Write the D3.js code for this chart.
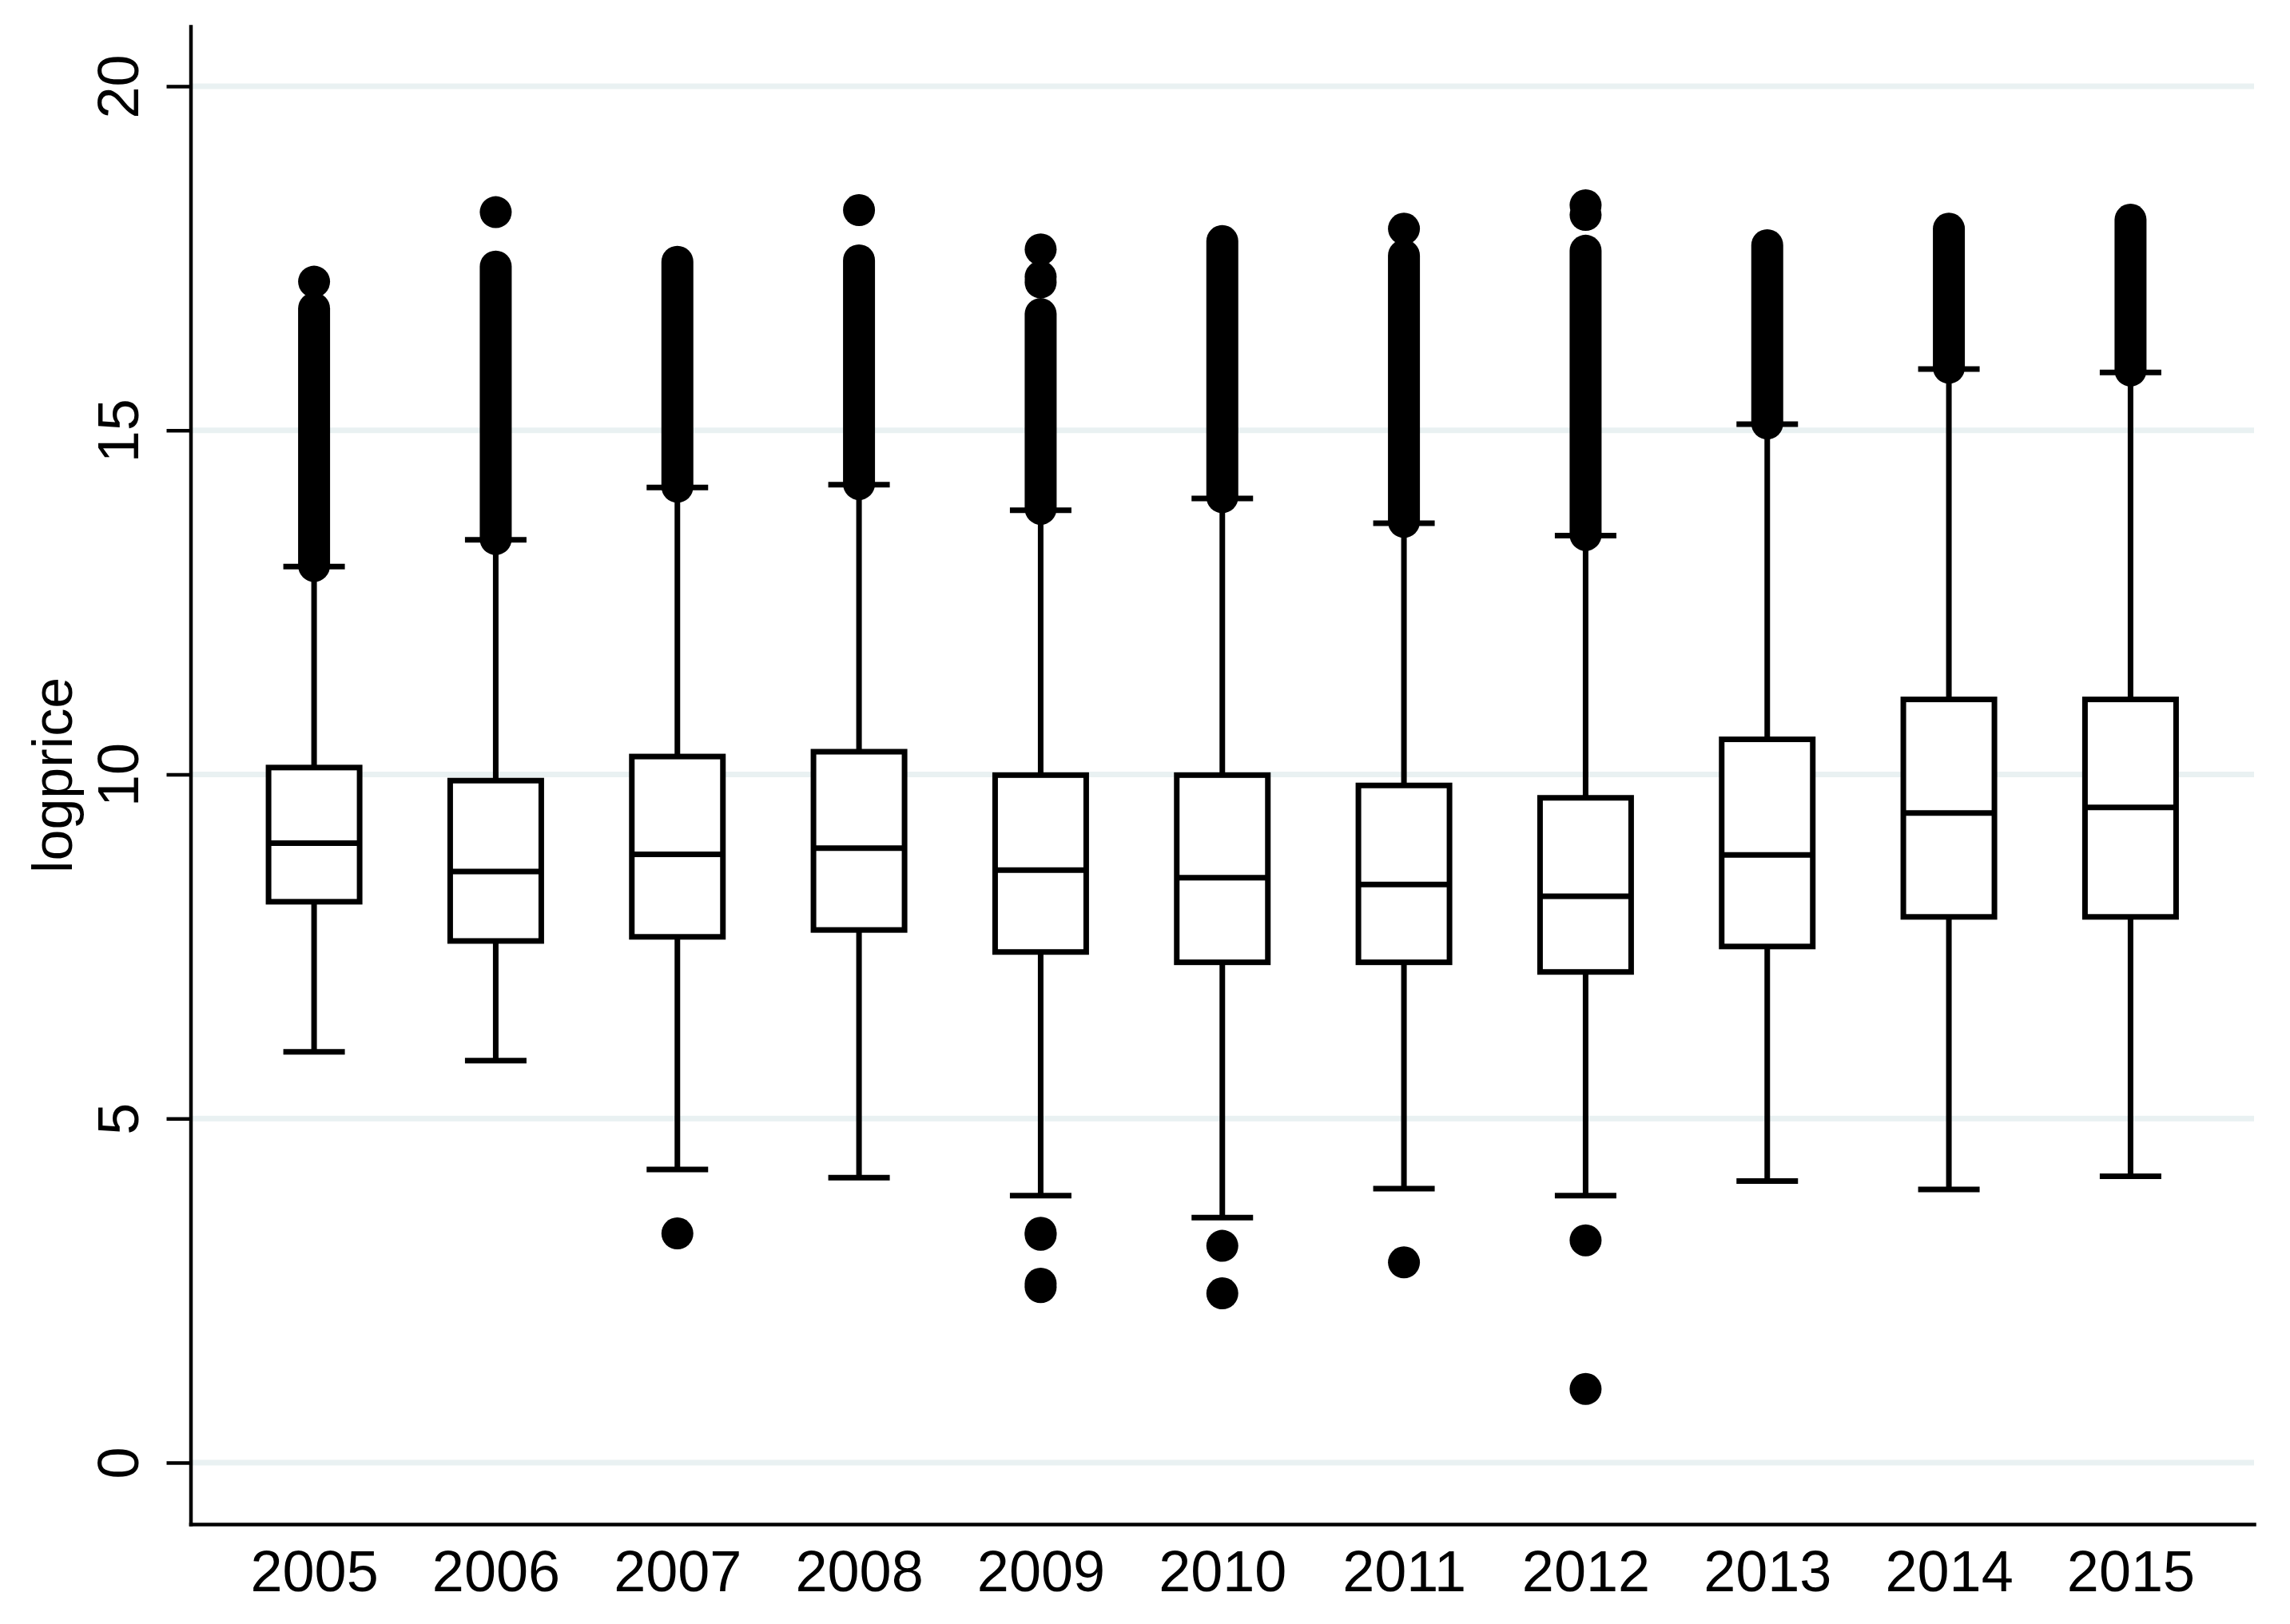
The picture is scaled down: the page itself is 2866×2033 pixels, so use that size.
<!DOCTYPE html>
<html>
<head>
<meta charset="utf-8">
<script src="https://cdn.jsdelivr.net/npm/d3@7"></script>
<style>
  html, body { margin: 0; padding: 0; background: #ffffff; }
  svg { display: block; }
  text { font-family: "Liberation Sans", Arial, Helvetica, sans-serif; }
</style>
</head>
<body>
<svg id="chart"></svg>
<script>
// ---- data ----
const years        = ["2005","2006","2007","2008","2009","2010","2011","2012","2013","2014","2015"];
const q1           = [8.15, 7.58, 7.64, 7.74, 7.42, 7.27, 7.27, 7.13, 7.50, 7.93, 7.93];
const median       = [9.00, 8.59, 8.84, 8.93, 8.61, 8.50, 8.40, 8.23, 8.83, 9.44, 9.52];
const q3           = [10.10, 9.91, 10.26, 10.33, 9.99, 9.99, 9.84, 9.66, 10.51, 11.09, 11.09];
const whiskerLow   = [5.97, 5.84, 4.26, 4.14, 3.88, 3.56, 3.98, 3.88, 4.09, 3.97, 4.16];
const whiskerHigh  = [13.02, 13.41, 14.17, 14.21, 13.84, 14.01, 13.65, 13.47, 15.09, 15.89, 15.84];
// dense runs of upper outliers (drawn as solid stacks of markers)
const denseOutLow  = [13.03, 13.42, 14.18, 14.22, 13.86, 14.03, 13.67, 13.48, 15.10, 15.91, 15.87];
const denseOutHigh = [16.77, 17.38, 17.45, 17.47, 16.69, 17.75, 17.54, 17.61, 17.69, 17.93, 18.06];
// separate outliers: year and value
const outYear  = ["2005","2006","2007","2008","2009","2009","2009","2009","2009","2009","2009","2010","2010","2011","2011","2012","2012","2012","2012"];
const outValue = [17.16, 18.17, 3.33, 18.20, 17.63, 17.23, 17.15, 3.34, 3.31, 2.60, 2.55, 3.15, 2.46, 17.93, 2.91, 18.27, 18.13, 3.23, 1.07];
const yTicks = [0, 5, 10, 15, 20];
const yTitle = "logprice";

(function () {
  const W = 2866, H = 2033;
  const svg = d3.select("#chart").attr("width", W).attr("height", H);
  svg.append("rect").attr("width", W).attr("height", H).attr("fill", "#ffffff");

  const pLeft = 238.5, pRight = 2821, pTop = 33, pBottom = 1908;
  const x = d3.scalePoint().domain(years).range([pLeft, pRight]).padding(0.68);
  const y = d3.scaleLinear().domain([-0.894, 20.87]).range([pBottom, pTop]);

  const boxW = 114, capW = 77, sw = 7, markR = 20;

  // gridlines
  svg.append("g").selectAll("line").data(yTicks).join("line")
    .attr("x1", pLeft).attr("x2", pRight)
    .attr("y1", d => y(d)).attr("y2", d => y(d))
    .attr("stroke", "#e9f1f2").attr("stroke-width", 7);

  const rows = years.map((yr, i) => ({
    yr, q1: q1[i], med: median[i], q3: q3[i], lo: whiskerLow[i], hi: whiskerHigh[i],
    dLo: denseOutLow[i], dHi: denseOutHigh[i]
  }));

  const g = svg.append("g");
  // whiskers
  g.append("g").selectAll("line").data(rows).join("line")
    .attr("x1", d => x(d.yr)).attr("x2", d => x(d.yr))
    .attr("y1", d => y(d.q3)).attr("y2", d => y(d.hi))
    .attr("stroke", "#000").attr("stroke-width", sw);
  g.append("g").selectAll("line").data(rows).join("line")
    .attr("x1", d => x(d.yr)).attr("x2", d => x(d.yr))
    .attr("y1", d => y(d.q1)).attr("y2", d => y(d.lo))
    .attr("stroke", "#000").attr("stroke-width", sw);
  // caps
  ["hi", "lo"].forEach(k => {
    g.append("g").selectAll("line").data(rows).join("line")
      .attr("x1", d => x(d.yr) - capW / 2).attr("x2", d => x(d.yr) + capW / 2)
      .attr("y1", d => y(d[k])).attr("y2", d => y(d[k]))
      .attr("stroke", "#000").attr("stroke-width", sw);
  });
  // boxes
  g.append("g").selectAll("rect").data(rows).join("rect")
    .attr("x", d => x(d.yr) - boxW / 2).attr("width", boxW)
    .attr("y", d => y(d.q3)).attr("height", d => y(d.q1) - y(d.q3))
    .attr("fill", "#ffffff").attr("stroke", "#000").attr("stroke-width", sw);
  // medians
  g.append("g").selectAll("line").data(rows).join("line")
    .attr("x1", d => x(d.yr) - boxW / 2).attr("x2", d => x(d.yr) + boxW / 2)
    .attr("y1", d => y(d.med)).attr("y2", d => y(d.med))
    .attr("stroke", "#000").attr("stroke-width", sw);
  // dense outlier runs
  g.append("g").selectAll("line").data(rows).join("line")
    .attr("x1", d => x(d.yr)).attr("x2", d => x(d.yr))
    .attr("y1", d => y(d.dLo)).attr("y2", d => y(d.dHi))
    .attr("stroke", "#000").attr("stroke-width", markR * 2).attr("stroke-linecap", "round");
  // separate outliers
  g.append("g").selectAll("circle").data(outValue.map((v, i) => ({ yr: outYear[i], v }))).join("circle")
    .attr("cx", d => x(d.yr)).attr("cy", d => y(d.v)).attr("r", markR).attr("fill", "#000");

  // y axis
  const yAxis = svg.append("g").attr("transform", `translate(${pLeft},0)`)
    .call(d3.axisLeft(y).tickValues(yTicks).tickSize(30).tickSizeOuter(0).tickFormat(d3.format("d")));
  yAxis.select(".domain").attr("stroke", "#000").attr("stroke-width", 4.5).attr("stroke-linecap", "square");
  yAxis.selectAll(".tick line").attr("stroke", "#000").attr("stroke-width", 4.5);
  yAxis.selectAll(".tick text")
    .attr("x", null).attr("dy", null)
    .attr("transform", "translate(-66,0) rotate(-90)")
    .attr("text-anchor", "middle")
    .attr("fill", "#000").attr("font-size", 72)
    .attr("font-family", "Liberation Sans, Arial, sans-serif");

  // x axis
  const xAxis = svg.append("g").attr("transform", `translate(0,${pBottom})`)
    .call(d3.axisBottom(x).tickSize(0).tickSizeOuter(0));
  xAxis.select(".domain").attr("stroke", "#000").attr("stroke-width", 4.5).attr("stroke-linecap", "square");
  xAxis.selectAll(".tick text")
    .attr("y", 84).attr("dy", null)
    .attr("fill", "#000").attr("font-size", 72)
    .attr("font-family", "Liberation Sans, Arial, sans-serif");

  // y title
  svg.append("text")
    .attr("transform", `translate(90,${(pTop + pBottom) / 2}) rotate(-90)`)
    .attr("text-anchor", "middle")
    .attr("font-size", 70).attr("fill", "#000")
    .attr("font-family", "Liberation Sans, Arial, sans-serif")
    .text(yTitle);
})();
</script>
</body>
</html>
